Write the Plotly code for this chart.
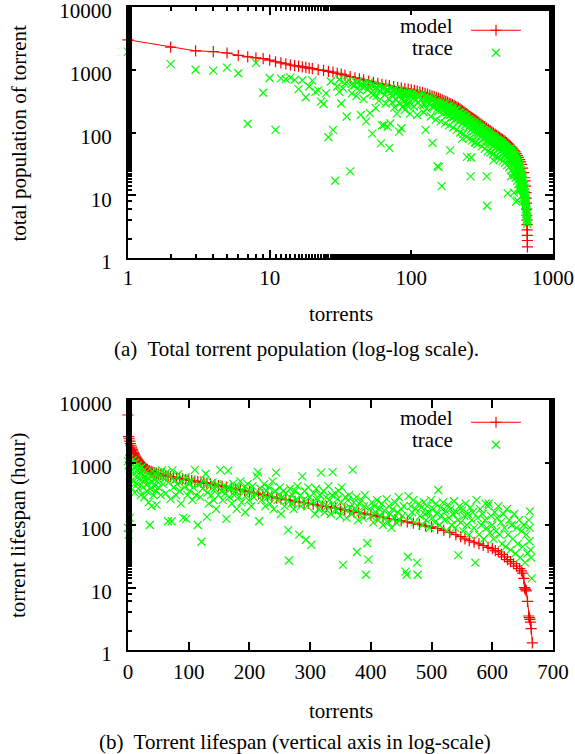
import plotly.graph_objects as go

# ---------------------------------------------------------------------------
# Data (torrent rank, value)
# ---------------------------------------------------------------------------

# (a) total population of torrent, log-log
pop_model = [
    (1, 3000), (2, 2300), (3, 2000), (4, 1950), (5, 1850), (6, 1700), (7, 1600), (8, 1550),
    (9, 1500), (10, 1420), (11, 1340), (12, 1290), (13, 1240), (14, 1190), (15, 1160),
    (16, 1140), (17, 1110), (18, 1090), (19, 1060), (20, 1040), (22, 1000), (24, 975),
    (26, 945), (28, 915), (30, 880), (32, 850), (34, 820), (37, 775), (40, 745), (43, 715),
    (46, 690), (50, 660), (54, 630), (58, 605), (62, 585), (66, 568), (70, 555), (75, 540),
    (80, 525), (85, 510), (90, 500), (95, 490), (100, 480), (105, 468), (110, 455),
    (115, 445), (120, 432), (125, 420), (130, 408), (135, 396), (140, 385), (145, 373),
    (150, 362), (155, 352), (160, 342), (165, 332), (170, 322), (175, 313), (180, 304),
    (185, 295), (190, 286), (195, 278), (200, 270), (205, 262), (210, 254), (215, 246),
    (220, 238), (225, 230), (230, 222), (235, 214), (240, 206), (245, 199), (250, 192),
    (255, 186), (260, 180), (265, 175), (270, 170), (275, 165), (280, 160), (285, 156),
    (290, 152), (295, 148), (300, 144), (310, 137), (320, 130), (330, 124), (340, 118),
    (350, 112), (360, 107), (370, 102), (380, 98), (390, 94), (400, 90), (410, 87),
    (420, 84), (430, 81), (440, 78), (450, 75), (460, 72), (470, 69), (480, 66), (490, 63),
    (500, 60), (510, 58), (520, 55), (530, 52), (540, 49), (550, 46), (560, 43), (570, 40),
    (580, 37), (590, 34), (600, 31), (610, 27), (620, 23), (630, 19), (635, 17), (640, 14),
    (645, 11), (648, 9), (650, 7.5), (652, 6), (654, 4.8), (655, 4), (656, 3.4),
    (657, 2.8), (658, 2.3), (659, 1.9), (660, 1.5),
]

pop_trace = [
    (1, 1950), (2, 1230), (3, 1000), (4, 970), (5, 1080), (6, 880), (7, 138), (8, 1290),
    (9, 430), (10, 740), (11, 110), (12, 730), (13, 710), (14, 750), (15, 690), (16, 490),
    (17, 680), (18, 365), (19, 540), (20, 670), (21, 445), (22, 470), (23, 310), (24, 285),
    (25, 420), (26, 84), (27, 650), (28, 110), (29, 17), (30, 540), (31, 445), (32, 290),
    (33, 505), (34, 600), (35, 180), (36, 690), (37, 24), (38, 420), (39, 560), (40, 570),
    (41, 380), (42, 650), (43, 470), (44, 190), (45, 600), (46, 340), (47, 540), (48, 150),
    (49, 480), (50, 620), (51, 204), (52, 430), (53, 96), (54, 400), (55, 560), (56, 245),
    (57, 380), (58, 500), (59, 320), (60, 450), (61, 67), (62, 130), (63, 520), (64, 131),
    (65, 400), (66, 290), (67, 470), (68, 123), (69, 350), (70, 57), (71, 140), (72, 440),
    (73, 300), (74, 380), (75, 480), (76, 250), (77, 420), (78, 330), (79, 200), (80, 460),
    (81, 380), (82, 103), (83, 290), (84, 420), (85, 117), (86, 350), (87, 260), (88, 400),
    (89, 310), (90, 230), (91, 420), (92, 380), (93, 270), (94, 290), (95, 410), (96, 340),
    (97, 300), (98, 200), (99, 370),
    (31, 700), (35, 640), (38, 590), (41, 620), (44, 560), (47, 600), (50, 540), (53, 580),
    (56, 520), (59, 560), (62, 500), (65, 530), (68, 470), (71, 510), (74, 460), (77, 490),
    (80, 440), (83, 470), (86, 420), (89, 450), (92, 400), (95, 430), (98, 380),
    (101, 410), (104, 260), (107, 330), (110, 190),
    (113, 400), (116, 270), (119, 340), (122, 210), (125, 370), (126, 110), (128, 240),
    (131, 300), (134, 350), (137, 180), (140, 330), (141, 68), (143, 250), (146, 310),
    (149, 160), (152, 300), (153, 29), (155, 220), (156, 28), (158, 290), (161, 150),
    (164, 270), (164, 14), (167, 200), (170, 280), (173, 140), (176, 250), (179, 190),
    (182, 260), (185, 130), (188, 230), (188, 52), (191, 170), (194, 240), (197, 120),
    (200, 220), (203, 160), (206, 225), (209, 110), (212, 200), (215, 150), (218, 210),
    (221, 100), (224, 190), (227, 140), (229, 80), (230, 195), (233, 95), (236, 175),
    (239, 130), (242, 180), (245, 85), (247, 41), (248, 160), (251, 120), (254, 165),
    (257, 80), (260, 150), (262, 20), (263, 110), (265, 40), (266, 155), (269, 75),
    (272, 140), (275, 105), (278, 145), (281, 70), (284, 130), (286, 70), (287, 100),
    (290, 135), (293, 65), (296, 120), (299, 90),
    (102, 430), (105, 360), (108, 420), (111, 300), (114, 390), (117, 330), (120, 400),
    (123, 280), (126, 380), (129, 320), (132, 370), (135, 290), (138, 350), (141, 260),
    (144, 340), (147, 300), (150, 320), (153, 240), (156, 310), (159, 270), (162, 300),
    (165, 230), (168, 290), (171, 250), (174, 280), (177, 210), (180, 270), (183, 240),
    (186, 260), (189, 190), (192, 250), (195, 220), (198, 240), (201, 180), (204, 230),
    (207, 200), (210, 225), (213, 170), (216, 210), (219, 185), (222, 205), (225, 160),
    (228, 195), (231, 170), (234, 190), (237, 150), (240, 180), (243, 160), (246, 175),
    (249, 140), (252, 165), (255, 145), (258, 160), (261, 130), (264, 150), (267, 135),
    (270, 148), (273, 120), (276, 140), (279, 125), (282, 138), (285, 110), (288, 132),
    (291, 115), (294, 128), (297, 100),
    (302, 125), (306, 85), (310, 118),
    (314, 60), (318, 112), (322, 80), (326, 110), (330, 55), (334, 105), (338, 75),
    (341, 20), (342, 6.8), (342, 102), (346, 50), (350, 98), (354, 70), (358, 95),
    (362, 48), (366, 90), (370, 65), (374, 88), (378, 45), (380, 36), (382, 85), (386, 62),
    (390, 82), (394, 42), (398, 78), (402, 58), (406, 76), (410, 40), (414, 74), (418, 55),
    (422, 72), (426, 38), (430, 70), (434, 52), (438, 68), (442, 35), (446, 65), (450, 48),
    (454, 63), (458, 33), (462, 60), (466, 45), (470, 58), (474, 30), (478, 55), (479, 10.7),
    (482, 42), (486, 54), (490, 28), (494, 50), (498, 38),
    (304, 120), (308, 100), (312, 115), (316, 90), (320, 110), (324, 95), (328, 105),
    (332, 80), (336, 100), (340, 85), (344, 96), (348, 72), (352, 94), (356, 80), (360, 90),
    (364, 68), (368, 86), (372, 75), (376, 84), (380, 62), (384, 80), (388, 70), (392, 78),
    (396, 58), (400, 76), (404, 66), (408, 72), (412, 54), (416, 70), (420, 62), (424, 68),
    (428, 50), (432, 66), (436, 58), (440, 64), (444, 46), (448, 62), (452, 55), (456, 60),
    (460, 42), (464, 58), (468, 50), (472, 56), (476, 40), (480, 54), (484, 47), (488, 52),
    (492, 36), (496, 50),
    (501, 50), (504, 34), (505, 20),
    (507, 48), (510, 25), (513, 46), (516, 32), (519, 44), (522, 23), (525, 42), (528, 30),
    (530, 11), (531, 40), (534, 21), (537, 38), (540, 28), (543, 36), (546, 19), (548, 7.9),
    (549, 34), (552, 26), (555, 32), (558, 17), (560, 8.3), (561, 30), (564, 24), (567, 29),
    (570, 15), (573, 27), (575, 12), (576, 21), (579, 26), (582, 13), (585, 24), (588, 18),
    (591, 22), (594, 12), (597, 20), (600, 16), (603, 19), (606, 10), (609, 17), (612, 13),
    (615, 15), (618, 9), (621, 14), (624, 11), (627, 12), (630, 8), (633, 11), (636, 7),
    (639, 9), (642, 6), (645, 7.5), (648, 5), (651, 5.5), (654, 4), (656, 4.5), (658, 3.5),
    (502, 55), (505, 42), (508, 52), (511, 38), (514, 50), (517, 40), (520, 48), (523, 35),
    (526, 45), (529, 37), (532, 44), (535, 32), (538, 42), (541, 34), (544, 40), (547, 29),
    (550, 38), (553, 31), (556, 36), (559, 26), (562, 34), (565, 28), (568, 33), (571, 24),
    (574, 31), (577, 25), (580, 29), (583, 22), (586, 27), (589, 21), (592, 25), (595, 19),
    (598, 23), (601, 17), (604, 21), (607, 15), (610, 19), (613, 14), (616, 17), (619, 12),
    (622, 15), (625, 10), (628, 13), (631, 9), (634, 11), (637, 8), (640, 10), (643, 7),
    (646, 8), (649, 6), (652, 5), (655, 4.2), (657, 3.8),
]

# (b) torrent lifespan in hours, linear x / log y
life_model = [
    (0, 5750), (1, 2600), (2, 2400), (3, 2200), (4, 2000), (5, 1850), (6, 1720), (7, 1620),
    (8, 1540), (9, 1460), (10, 1400), (11, 1330), (12, 1270), (13, 1220), (14, 1180),
    (15, 1140), (16, 1100), (17, 1065), (18, 1030), (19, 1000), (20, 970), (22, 920),
    (24, 885), (26, 855), (28, 825), (30, 795), (32, 775), (35, 745), (38, 720), (41, 700),
    (44, 683), (47, 665), (50, 652), (54, 640), (58, 628), (62, 618), (66, 606), (70, 595),
    (75, 583), (80, 568), (85, 557), (90, 546), (95, 535), (100, 525), (105, 515), (110, 505),
    (115, 495), (120, 485), (125, 475), (130, 465), (136, 455), (143, 440), (149, 428),
    (155, 415), (162, 403), (170, 390), (177, 378), (185, 365), (192, 352), (200, 340),
    (207, 328), (215, 315), (222, 303), (230, 292), (237, 281), (245, 270), (252, 262),
    (260, 255), (267, 247), (275, 240), (282, 233), (290, 227), (297, 221), (305, 215),
    (312, 209), (320, 203), (327, 197), (335, 192), (342, 186), (350, 180), (357, 174),
    (365, 168), (372, 162), (380, 157), (390, 151), (400, 145), (410, 139), (420, 133),
    (430, 127), (440, 122), (450, 117), (460, 112), (470, 107), (480, 102), (490, 97),
    (500, 93), (510, 88), (520, 82), (530, 76), (540, 70), (548, 65), (555, 60), (562, 56),
    (570, 53), (578, 50), (585, 47), (593, 44), (600, 42), (605, 39), (610, 37), (615, 34),
    (620, 31), (625, 28), (630, 26), (635, 24), (640, 22), (645, 20), (648, 18.5), (650, 17),
    (652, 14), (653, 10), (654, 9.5), (655, 9.2), (656, 8.8), (658, 6), (660, 3.5),
    (661, 3.3), (662, 3.1), (663, 2.8), (664, 2.2), (666, 1.3),
]

life_trace = [
    (0, 1050), (0, 90), (1, 70), (1, 900), (2, 1150), (3, 130), (3, 600), (4, 1000), (5, 400),
    (6, 950), (7, 750), (8, 1100), (9, 500), (10, 850), (11, 330), (12, 1000), (13, 600),
    (14, 700), (15, 450), (16, 900), (17, 380), (18, 800), (19, 550), (20, 700), (21, 300),
    (22, 650), (23, 850), (24, 500), (25, 400), (26, 750), (27, 280), (28, 600), (29, 520),
    (30, 700), (31, 350), (32, 450), (33, 650), (34, 230), (35, 550), (36, 100), (37, 380),
    (38, 600), (39, 200), (40, 480), (41, 720), (42, 300), (43, 550), (44, 420), (45, 650),
    (46, 350), (47, 210), (48, 500), (49, 700), (50, 400), (52, 600), (54, 300), (56, 750),
    (58, 450), (60, 550), (62, 320), (64, 700), (66, 115), (67, 480), (69, 600), (70, 260),
    (72, 115), (73, 750), (75, 400), (77, 520), (79, 300), (81, 450), (83, 650), (85, 350),
    (87, 220), (89, 500), (91, 130), (93, 400), (95, 580), (96, 125), (98, 300), (100, 450),
    (102, 350), (104, 520), (106, 250), (108, 400), (110, 760), (112, 300), (115, 100),
    (117, 450), (119, 280), (121, 54), (123, 380), (125, 500), (128, 660), (130, 135),
    (131, 330), (133, 220), (135, 420), (137, 300), (139, 480), (141, 250), (143, 380),
    (145, 180), (147, 450), (149, 300), (152, 760), (154, 350), (156, 250), (158, 420),
    (160, 320), (162, 125), (164, 400), (165, 740), (167, 280), (169, 380), (171, 220),
    (173, 460), (175, 300), (177, 350), (179, 180), (181, 420), (183, 280), (185, 500),
    (187, 230), (189, 350), (191, 400), (193, 160), (195, 300), (197, 450), (199, 250),
    (201, 350), (203, 200), (205, 420), (207, 280), (209, 320), (212, 600), (214, 700),
    (216, 115), (218, 380), (220, 250), (222, 300), (224, 450), (226, 200), (228, 350),
    (230, 280), (232, 400), (234, 220), (236, 300), (238, 500), (240, 180), (242, 350),
    (244, 690), (246, 250), (248, 300), (250, 400), (252, 150), (254, 280), (256, 350),
    (258, 200), (260, 320), (262, 250), (264, 83), (265, 27), (267, 380), (269, 220),
    (271, 300), (273, 180), (275, 350), (277, 250), (279, 420), (282, 70), (284, 300),
    (285, 200), (287, 600), (289, 250), (291, 350), (293, 58), (295, 200), (297, 400),
    (299, 280), (302, 48), (304, 230), (306, 320), (308, 150), (310, 380), (312, 250),
    (314, 180), (316, 300), (318, 690), (320, 220), (322, 350), (324, 160), (326, 280),
    (328, 200), (330, 420), (332, 250), (334, 150), (336, 300), (337, 700), (339, 200),
    (341, 320), (343, 170), (345, 260), (347, 350), (349, 140), (351, 230), (352, 400),
    (354, 23), (356, 180), (358, 280), (360, 130), (362, 250), (364, 300), (366, 190),
    (368, 150), (370, 760), (372, 230), (374, 180), (376, 280), (377, 37), (379, 120),
    (381, 220), (383, 160), (385, 250), (387, 130), (389, 200), (390, 300), (392, 16),
    (394, 51), (396, 28), (398, 180), (400, 140), (402, 230), (404, 110), (406, 200),
    (408, 160), (410, 250), (412, 120), (414, 180), (416, 140), (418, 220), (420, 100),
    (422, 170), (424, 130), (426, 260), (428, 110), (430, 200), (432, 150), (434, 90),
    (436, 180), (438, 130), (440, 230), (442, 110), (444, 160), (446, 280), (448, 120),
    (450, 180), (452, 140), (454, 200), (457, 18), (459, 16), (461, 31), (462, 290),
    (464, 130), (466, 200), (468, 160), (470, 250), (472, 110), (474, 180), (476, 25),
    (477, 16), (479, 220), (481, 140), (483, 190), (485, 100), (487, 230), (489, 150),
    (491, 120), (493, 200), (495, 160), (497, 90), (499, 250), (501, 130), (503, 180),
    (505, 110), (507, 220), (509, 150), (511, 363), (513, 100), (515, 190), (517, 140),
    (519, 230), (521, 120), (523, 170), (525, 80), (527, 210), (529, 130), (531, 180),
    (533, 100), (535, 150), (537, 240), (539, 90), (541, 160), (543, 120), (544, 33),
    (546, 200), (548, 110), (550, 170), (552, 80), (554, 140), (556, 220), (558, 100),
    (560, 150), (562, 70), (564, 190), (566, 120), (568, 160), (570, 90), (572, 25),
    (574, 250), (576, 130), (578, 70), (580, 180), (582, 100), (584, 150), (586, 60),
    (588, 120), (589, 220), (591, 90), (593, 200), (594, 220), (596, 75), (598, 140),
    (600, 100), (602, 60), (604, 160), (606, 80), (608, 130), (610, 200), (612, 70),
    (614, 110), (616, 50), (618, 150), (620, 90), (622, 45), (624, 180), (626, 70),
    (628, 120), (630, 40), (632, 100), (634, 60), (636, 150), (638, 35), (640, 90),
    (642, 50), (644, 120), (646, 30), (648, 80), (650, 45), (652, 100), (654, 25),
    (656, 70), (658, 35), (660, 120), (661, 55), (662, 165), (662, 90), (663, 40),
    (664, 30), (665, 14),
]

log_ticks = [1, 10, 100, 1000, 10000]
top_x_ticks = [1, 10, 100, 1000]
bottom_x_ticks = [0, 100, 200, 300, 400, 500, 600, 700]

# ---------------------------------------------------------------------------
# Layout helpers (plot area spans 128..553 px wide, 7..650 px tall)
# ---------------------------------------------------------------------------
W, H = 575, 754
ML, MR, MT, MB = 128, 22, 7, 104
FONT = "Liberation Serif"


def px_x(px):
    return (px - ML) / (W - ML - MR)


def px_y(py):
    return (H - MB - py) / (H - MT - MB)


def split(pairs):
    return [p[0] for p in pairs], [p[1] for p in pairs]


model_style = dict(mode="lines+markers", line=dict(color="#ff0000", width=1),
                   marker=dict(symbol="cross-thin", size=8, color="#ff0000",
                               line=dict(color="#ff0000", width=1.2)),
                   cliponaxis=False)
trace_style = dict(mode="markers",
                   marker=dict(symbol="x-thin", size=8, color="#00ff00",
                               line=dict(color="#00ff00", width=1.2)),
                   cliponaxis=False)

fig = go.Figure()
x, y = split(pop_model)
fig.add_trace(go.Scatter(x=x, y=y, name=" ", xaxis="x", yaxis="y", legend="legend", **model_style))
x, y = split(pop_trace)
fig.add_trace(go.Scatter(x=x, y=y, name=" ", xaxis="x", yaxis="y", legend="legend", **trace_style))
x, y = split(life_model)
fig.add_trace(go.Scatter(x=x, y=y, name=" ", xaxis="x2", yaxis="y2", legend="legend2", **model_style))
x, y = split(life_trace)
fig.add_trace(go.Scatter(x=x, y=y, name=" ", xaxis="x2", yaxis="y2", legend="legend2", **trace_style))

axis_style = dict(showline=True, linecolor="black", linewidth=2, mirror="allticks",
                  ticks="inside", ticklen=8, tickwidth=1.5, tickcolor="black",
                  showgrid=False, zeroline=False, automargin=False,
                  ticklabeloverflow="allow",
                  tickfont=dict(family=FONT, size=21, color="black"))
minor_style = dict(ticks="inside", ticklen=4, tickwidth=1.5, tickcolor="black", showgrid=False)

top_dom = [px_y(258), 1]
bot_dom = [0, px_y(400)]

fig.update_layout(
    template="none",
    width=W, height=H,
    margin=dict(l=ML, r=MR, t=MT, b=MB),
    plot_bgcolor="white", paper_bgcolor="white",
    font=dict(family=FONT, size=21, color="black"),
    xaxis=dict(type="log", range=[0, 3], anchor="y", domain=[0, 1],
               tickvals=top_x_ticks, ticktext=[str(v) for v in top_x_ticks],
               ticklabelstandoff=0, minor=minor_style, **axis_style),
    yaxis=dict(type="log", range=[0, 4], anchor="x", domain=top_dom,
               tickvals=log_ticks, ticktext=[str(v) for v in log_ticks],
               ticklabelstandoff=10, ticklabelshift=4, minor=minor_style, **axis_style),
    xaxis2=dict(range=[0, 700], anchor="y2", domain=[0, 1],
                tickvals=bottom_x_ticks, ticktext=[str(v) for v in bottom_x_ticks],
                ticklabelstandoff=2, **axis_style),
    yaxis2=dict(type="log", range=[0, 4], anchor="x2", domain=bot_dom,
                tickvals=log_ticks, ticktext=[str(v) for v in log_ticks],
                ticklabelstandoff=10, ticklabelshift=4, minor=minor_style, **axis_style),
    legend=dict(x=px_x(466), y=px_y(14), xanchor="left", yanchor="top",
                bgcolor="rgba(0,0,0,0)", font=dict(size=15), itemwidth=50),
    legend2=dict(x=px_x(466), y=px_y(406), xanchor="left", yanchor="top",
                 bgcolor="rgba(0,0,0,0)", font=dict(size=15), itemwidth=50),
    showlegend=True,
)

texts = [
    ("model", 455, 26, "right", 0), ("trace", 455, 48, "right", 0),
    ("model", 455, 418, "right", 0), ("trace", 455, 440, "right", 0),
    ("torrents", 340.5, 314, "center", 0), ("torrents", 340.5, 711, "center", 0),
    ("(a)  Total torrent population (log-log scale).", 296, 349, "center", 0),
    ("(b)  Torrent lifespan (vertical axis in log-scale)", 295, 742, "center", 0),
    ("total population of torrent", 18, 132.5, "center", -90),
    ("torrent lifespan (hour)", 18, 525, "center", -90),
]
for txt, tx, ty, anchor, ang in texts:
    fig.add_annotation(text=txt, x=px_x(tx), y=px_y(ty), xref="paper", yref="paper",
                       xanchor=anchor, yanchor="middle", textangle=ang, showarrow=False,
                       font=dict(family=FONT, size=21, color="black"))

# the page body has an 8px default margin; drop it so the figure fills the window
fig.write_html("out.html", config={"displayModeBar": False},
               post_script="document.body.style.margin='0';")
